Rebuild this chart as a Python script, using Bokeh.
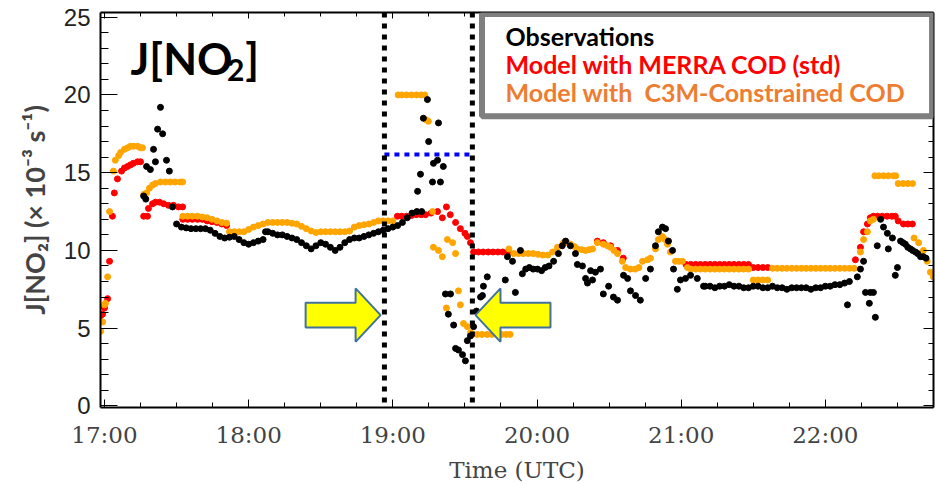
from bokeh.plotting import figure
from bokeh.models import Range1d, LinearAxis, FixedTicker, Label, Span, BoxAnnotation
from bokeh.embed import file_html
from bokeh.resources import INLINE

# ---------------- data (time = minutes after 17:00 UTC, value = J[NO2] in 1e-3 s-1) ----------------
OBS_T = [16.3, 17.2, 17.5, 19.1, 20.4, 21.2, 22.1, 23.3, 24.2, 25.8, 27.0, 28.3,
         30, 32, 34, 36, 38, 40, 42, 44, 46, 48, 50, 52, 54, 56, 58, 60, 62, 64, 66, 67, 68, 70, 72, 74, 76, 78,
         80, 82, 84, 86, 88, 90, 92, 94, 96, 98, 100, 102, 104, 106, 108, 110, 112, 114, 116, 118, 120, 122,
         124, 126, 128, 130, 132,
         130.3, 131.5, 132.7, 134.4, 134.9, 136.5, 136.9, 138.6, 139.0, 139.8, 141.0, 141.9, 143.1, 144.0,
         145.3, 146.1, 147.3, 149.0, 150.2, 151.0, 152.3, 153.6, 154.8, 156.5, 157.3, 157.7, 159.3,
         166.8, 167.7, 169.8, 171.0, 173.1, 173.9, 175.3, 176.8, 178.4, 180.2, 181.9, 183.4, 185.0, 186.9,
         188.9, 190.5, 191.9, 193.9, 196.0, 196.8, 198.9, 200.2, 201.0, 202.3, 203.1, 204.3, 206.4, 207.6,
         209.8, 211.8, 213.5, 216.0, 217.7, 218.9, 221.0, 223.0, 225.2, 227.2, 229.3, 230.5, 232.2, 233.5,
         234.7, 236.4, 236.8, 238.4, 239.7, 241.8, 243.9, 246.7, 249.3,
         250, 252, 254, 256, 258, 260, 262, 264, 266, 268, 270, 272, 274, 276, 278, 280, 282, 284, 286, 288,
         290, 292, 294, 296, 298, 300, 302, 304, 306, 308, 310,
         309.2, 313.3, 314.6, 315.9, 316.7, 318.7, 320.0, 318.3, 320.8, 321.6, 323.0, 324.2, 325.8, 326.2,
         327.9, 329.1, 330.0, 331.3, 332.3, 333.3, 334.3, 335.4, 336.3, 337.5, 338.4, 339.6, 340.8, 341.9]
OBS_V = [13.5, 13.3, 15.4, 15.2, 16.5, 15.7, 17.8, 19.2, 17.5, 15.8, 15.1, 12.8,
         11.7, 11.5, 11.45, 11.4, 11.4, 11.4, 11.4, 11.3, 11.1, 10.9, 10.8, 10.85, 10.9, 10.7, 10.5, 10.4, 10.5,
         10.6, 10.7, 11.2, 11.2, 11.1, 11.0, 11.0, 10.9, 10.8,
         10.7, 10.5, 10.3, 10.1, 10.3, 10.5, 10.4, 10.2, 10.0, 10.2, 10.5, 10.7, 10.8, 10.8, 10.9, 11.0, 11.1,
         11.2, 11.3, 11.4, 11.5, 11.6, 11.8, 12.1, 12.4, 12.5, 12.5,
         13.8, 14.9, 18.5, 19.7, 17.0, 14.4, 15.6, 15.8, 18.2, 14.4, 15.4, 7.2, 5.9, 7.2,
         5.2, 3.7, 3.6, 3.3, 2.9, 4.2, 4.5, 5.1, 6.1, 7.0, 7.1, 7.7, 8.3,
         8.1, 9.6, 9.3, 7.3, 10.0, 8.5, 8.8, 8.9, 8.8, 8.8, 8.7, 8.9, 9.0, 9.3,
         9.8, 10.3, 10.6, 10.3, 9.8, 9.1, 9.0, 8.2, 7.9, 8.7, 8.1, 8.6, 8.8, 7.2,
         7.7, 7.0, 6.8, 8.4, 8.2, 7.4, 7.1, 6.8, 8.2, 8.8, 10.3, 11.2, 11.5, 11.4,
         10.6, 10.0, 8.8, 7.5, 8.1, 8.2, 8.4, 8.2, 7.7,
         7.7, 7.7, 7.6, 7.7, 7.7, 7.8, 7.7, 7.7, 7.6, 7.6, 7.7, 7.7, 7.6, 7.6, 7.7, 7.6, 7.6, 7.5, 7.6, 7.6,
         7.6, 7.6, 7.5, 7.6, 7.6, 7.7, 7.7, 7.8, 7.8, 7.9, 8.0,
         6.5, 8.3, 8.8, 9.3, 7.3, 7.3, 7.3, 6.6, 5.7, 10.3, 12.0, 11.5, 11.1, 10.1,
         10.8, 8.4, 8.9, 10.6, 10.5, 10.4, 10.2, 10.1, 10.0, 9.9, 9.8, 9.6, 9.6, 9.5]

MERRA_T = [-1.6, -0.8, 0.0, 1.3, 2.1, 3.3, 4.1, 5.4, 7.1, 8.3, 9.6, 10.8, 12.0, 13.8, 15.0,
           16.3, 17.9, 18.3, 20.0, 21.2, 22.9, 24.6, 26.6, 28.7, 30.8, 32.5,
           32.6, 34.6, 36.6, 38.7, 40.7, 42.7, 44.7, 46.8, 48.8, 50.8,
           121.9, 123.7, 125.7, 127.8, 129.8, 131.8, 133.6, 135.9, 138.6, 140.6, 142.3, 143.9, 146.1, 148.1,
           150.0, 151.0, 152.3, 153.6, 155.6, 157.6, 159.7, 161.7, 163.7, 165.7, 168.2,
           205.1, 207.6, 210.6, 213.5, 215.9,
           242, 244, 246, 248, 250, 252, 254, 256, 258, 260, 262, 264, 266, 268, 270, 272, 274, 276,
           312.5, 314.6, 315.9, 317.5, 318.7, 320.0, 321.7, 323.7, 325.7, 327.7, 329.1, 330.3, 332.5, 334.3, 336.2]
MERRA_V = [5.8, 5.9, 6.3, 6.9, 9.3, 12.2, 13.7, 14.6, 15.1, 15.3, 15.4, 15.5, 15.6, 15.7, 15.7,
           12.2, 12.2, 12.7, 13.0, 13.1, 13.1, 13.0, 12.9, 12.9, 12.8, 12.8,
           12.0, 12.0, 12.0, 12.0, 12.0, 11.9, 11.85, 11.8, 11.7, 11.6,
           12.2, 12.2, 12.2, 12.25, 12.3, 12.3, 12.3, 12.4, 12.5, 12.1, 12.8, 12.3, 11.8, 11.4,
           11.1, 10.9, 10.5, 9.9, 9.9, 9.9, 9.9, 9.9, 9.9, 9.9, 9.9,
           10.6, 10.5, 10.3, 10.0, 9.5,
           9.1, 9.1, 9.1, 9.1, 9.1, 9.1, 9.1, 9.1, 9.1, 9.1, 9.1, 9.1, 9.1, 9.1, 8.9, 8.9, 8.9, 8.9,
           9.4, 10.2, 11.2, 11.7, 12.1, 12.2, 12.2, 12.2, 12.2, 12.2, 12.2, 11.9, 11.7, 11.7, 11.7]

C3M_T = [-1.6, -0.8, 0.0, 0.4, 1.3, 2.1, 3.7, 4.5, 5.9, 6.7, 8.3, 9.6, 10.8, 12.0, 13.8, 15.0, 15.8,
         16.3, 17.5, 18.7, 20.0, 21.2, 23.3, 25.4, 27.4, 29.4, 31.5, 32.5,
         32.6, 34.6, 36.6, 38.7, 40.7, 42.7, 44.7, 46.8, 48.8, 50.8,
         52, 54, 56, 58, 60, 62, 64, 66, 68, 70, 72, 74, 76, 78, 80, 82, 84, 86, 88, 90, 92, 94, 96, 98,
         100, 102, 104, 106, 108, 110, 112, 114, 116, 118, 120,
         122.2, 123.7, 125.7, 127.8, 129.8, 131.8, 133.3, 133.8, 134.8,
         136.5, 136.9, 139.0, 140.6, 142.3, 142.7, 144.9, 146.1, 147.3, 148.1, 149.4, 151.0, 152.3,
         153.1, 155.1, 157.1, 159.2, 161.2, 163.2, 165.2, 167.2, 168.8,
         168.3, 170.3, 172.3, 174.3, 176.4, 178.4, 180.4, 182.4, 184.5, 186.5, 188.5, 191.0, 192.5, 193.9,
         195.6, 196.8, 198.6, 200.2, 201.7, 203.1,
         205.1, 207.6, 209.3, 210.6, 212.0, 213.5, 215.5, 216.9, 218.9, 220.9, 222.4, 223.9, 226.0, 227.2,
         229.3, 230.5, 232.2, 233.3, 234.3, 235.5, 237.6, 239.1, 240.5, 242.6,
         244, 246, 248, 250, 252, 254, 256, 258, 260, 262, 264, 266, 268,
         270, 272, 274, 276,
         278, 280, 282, 284, 286, 288, 290, 292, 294, 296, 298, 300, 302, 304, 306, 308, 310, 312,
         314.6, 315.9, 317.5, 318.7, 320.0,
         320.6, 322.2, 324.2, 326.2, 328.3, 329.3, 330.3, 332.3, 334.3, 336.3,
         336.9, 338.8, 340.8, 342.4, 343.7, 344.9]
C3M_V = [4.8, 5.4, 6.5, 6.6, 8.3, 12.5, 15.1, 15.8, 16.1, 16.3, 16.5, 16.6, 16.7, 16.7, 16.7, 16.6, 16.6,
         13.6, 13.7, 14.0, 14.2, 14.3, 14.4, 14.4, 14.4, 14.4, 14.4, 14.4,
         12.2, 12.2, 12.2, 12.2, 12.15, 12.1, 12.0, 11.9, 11.8, 11.75,
         11.2, 11.2, 11.2, 11.2, 11.35, 11.5, 11.6, 11.7, 11.8, 11.8, 11.8, 11.8, 11.8, 11.75, 11.7, 11.55,
         11.4, 11.25, 11.15, 11.2, 11.2, 11.2, 11.2, 11.2,
         11.2, 11.25, 11.5, 11.6, 11.65, 11.7, 11.8, 11.9, 11.9, 11.9, 11.9,
         20.0, 20.0, 20.0, 20.0, 20.0, 20.0, 20.0, 18.4, 18.3,
         12.5, 10.2, 10.0, 9.6, 6.3, 10.7, 10.5, 9.8, 7.4, 6.5, 5.3, 5.1, 4.7,
         4.6, 4.6, 4.6, 4.6, 4.6, 4.6, 4.6, 4.6, 4.6,
         10.1, 9.8, 9.8, 9.8, 9.8, 9.8, 9.75, 9.7, 9.7, 9.9, 10.2, 10.5, 10.5, 10.4,
         10.25, 10.1, 10.05, 10.0, 10.05, 10.1,
         10.5, 10.4, 10.3, 10.2, 10.0, 9.8, 9.3, 8.9, 8.8, 8.8, 8.9, 9.3, 9.4, 9.5,
         10.1, 10.7, 10.9, 10.7, 10.4, 9.9, 9.3, 9.3, 9.3, 8.9,
         8.8, 8.8, 8.8, 8.8, 8.8, 8.8, 8.8, 8.8, 8.8, 8.8, 8.8, 8.8, 8.8,
         8.1, 8.1, 8.1, 8.1,
         8.85, 8.85, 8.85, 8.85, 8.85, 8.85, 8.85, 8.85, 8.85, 8.85, 8.85, 8.85, 8.85, 8.85, 8.85, 8.85, 8.85, 8.85,
         9.9, 10.7, 11.2, 11.9, 12.0,
         14.8, 14.8, 14.8, 14.8, 14.8, 14.8, 14.3, 14.3, 14.3, 14.3,
         10.8, 10.5, 10.0, 9.3, 8.6, 8.3]

X_TICKS = [0, 60, 120, 180, 240, 300]
X_LABELS = ["17:00", "18:00", "19:00", "20:00", "21:00", "22:00"]
Y_TICKS = [0, 5, 10, 15, 20, 25]

LEGEND_TEXTS = ["Observations", "Model with MERRA COD (std)", "Model with\u00a0 C3M-Constrained COD"]
LEGEND_COLORS = ["#000000", "#FF0000", "#ED7D31"]

CLOUD_START = 116.5     # ~18:56 UTC
CLOUD_END = 153.1       # ~19:33 UTC
THRESHOLD = 16.17

# ---------------- figure ----------------
p = figure(width=939, height=485, x_range=Range1d(-1.66, 345.0), y_range=Range1d(-0.1, 25.3),
           output_backend="svg", toolbar_location=None,
           min_border_left=100, min_border_right=6, min_border_top=12, min_border_bottom=75)
p.grid.visible = False
p.outline_line_color = None
p.background_fill_color = "white"
p.border_fill_color = "white"

x_minor = [m for m in range(-15, 346, 15) if m not in X_TICKS]
y_minor = [v for v in range(0, 26) if v not in Y_TICKS]
xt = FixedTicker(ticks=X_TICKS, minor_ticks=x_minor)
yt = FixedTicker(ticks=Y_TICKS, minor_ticks=y_minor)

ax = p.xaxis[0]
ax.ticker = xt
ax.major_label_overrides = {t: l for t, l in zip(X_TICKS, X_LABELS)}
ax.axis_label = "Time (UTC)"
ax.axis_label_text_font = "DejaVu Serif"
ax.axis_label_text_font_style = "normal"
ax.axis_label_text_font_size = "23px"
ax.axis_label_standoff = 6
ax.major_label_text_font = "DejaVu Serif"
ax.major_label_text_font_size = "23px"
ax.major_label_standoff = 14
ax.major_tick_in = 8
ax.major_tick_out = 0
ax.minor_tick_in = 5
ax.minor_tick_out = 0
ax.axis_line_width = 2

ay = p.yaxis[0]
ay.ticker = yt
ay.axis_label = "J[NO\u2082] (\u00d7 10\u207b\u00b3 s\u207b\u00b9)"
ay.axis_label_text_font = "Lato"
ay.axis_label_text_font_style = "bold"
ay.axis_label_text_font_size = "27px"
ay.axis_label_standoff = 10
ay.major_label_text_font = "Liberation Sans"
ay.major_label_text_font_size = "24px"
ay.major_label_text_color = "#222222"
ay.major_label_standoff = 10
ay.major_tick_in = 17
ay.major_tick_out = 0
ay.minor_tick_in = 8
ay.minor_tick_out = 0
ay.axis_line_width = 2

top = LinearAxis(ticker=xt, major_label_overrides={t: "" for t in X_TICKS},
                 major_label_text_font_size="1px", major_label_standoff=0,
                 major_tick_in=6, major_tick_out=0, minor_tick_in=4, minor_tick_out=0, axis_line_width=2)
p.add_layout(top, "above")
right = LinearAxis(ticker=yt, major_label_overrides={t: "" for t in Y_TICKS},
                   major_label_text_font_size="1px", major_label_standoff=0,
                   major_tick_in=10, major_tick_out=0, minor_tick_in=5, minor_tick_out=0, axis_line_width=2)
p.add_layout(right, "right")

# ---------------- series ----------------
p.scatter(MERRA_T, MERRA_V, size=6, color="#FF0000")
p.scatter(C3M_T, C3M_V, size=6, color="#FFA500")
p.scatter(OBS_T, OBS_V, size=6, color="#000000")

# ---------------- annotations ----------------
for loc in (CLOUD_START, CLOUD_END):
    p.add_layout(Span(location=loc, dimension="height", line_color="black", line_width=5, line_dash="5 6"))
p.segment(x0=[CLOUD_START], y0=[THRESHOLD], x1=[CLOUD_END], y1=[THRESHOLD],
          line_color="#0000FF", line_width=4, line_dash="5 5")

ARROW_Y = 5.84
ARROW_LEN, ARROW_HEAD, BODY_HALF, HEAD_HALF = 31.2, 10.4, 0.8, 1.72
def arrow(tip, d):
    xs = [tip, tip - d * ARROW_HEAD, tip - d * ARROW_HEAD, tip - d * ARROW_LEN,
          tip - d * ARROW_LEN, tip - d * ARROW_HEAD, tip - d * ARROW_HEAD]
    ys = [ARROW_Y, ARROW_Y + HEAD_HALF, ARROW_Y + BODY_HALF, ARROW_Y + BODY_HALF,
          ARROW_Y - BODY_HALF, ARROW_Y - BODY_HALF, ARROW_Y - HEAD_HALF]
    return xs, ys
a1 = arrow(114.9, 1)
a2 = arrow(154.4, -1)
p.patches([a1[0], a2[0]], [a1[1], a2[1]], fill_color="#FFFF00", line_color="#41719C", line_width=2)

p.add_layout(BoxAnnotation(left=157.1, right=344.4, top=25.2, bottom=18.63, fill_color="white",
                           fill_alpha=1.0, line_color="#7F7F7F", line_width=6, line_alpha=1.0))
for txt, col, yb in zip(LEGEND_TEXTS, LEGEND_COLORS, [23.77, 22.01, 20.19]):
    p.add_layout(Label(x=166.9, y=yb, text=txt, text_color=col,
                       text_font="Lato", text_font_style="bold", text_font_size="25px",
                       text_baseline="alphabetic"))

TITLE_FONT = dict(text_font="Lato", text_font_style="bold", text_color="black", text_baseline="alphabetic")
p.add_layout(Label(x=10.8, y=22.37, text="J[NO", text_font_size="44px", **TITLE_FONT))
p.add_layout(Label(x=51.0, y=21.6, text="2", text_font_size="30px", **TITLE_FONT))
p.add_layout(Label(x=58.6, y=22.37, text="]", text_font_size="44px", **TITLE_FONT))

open("out.html", "w").write(file_html(p, INLINE))
